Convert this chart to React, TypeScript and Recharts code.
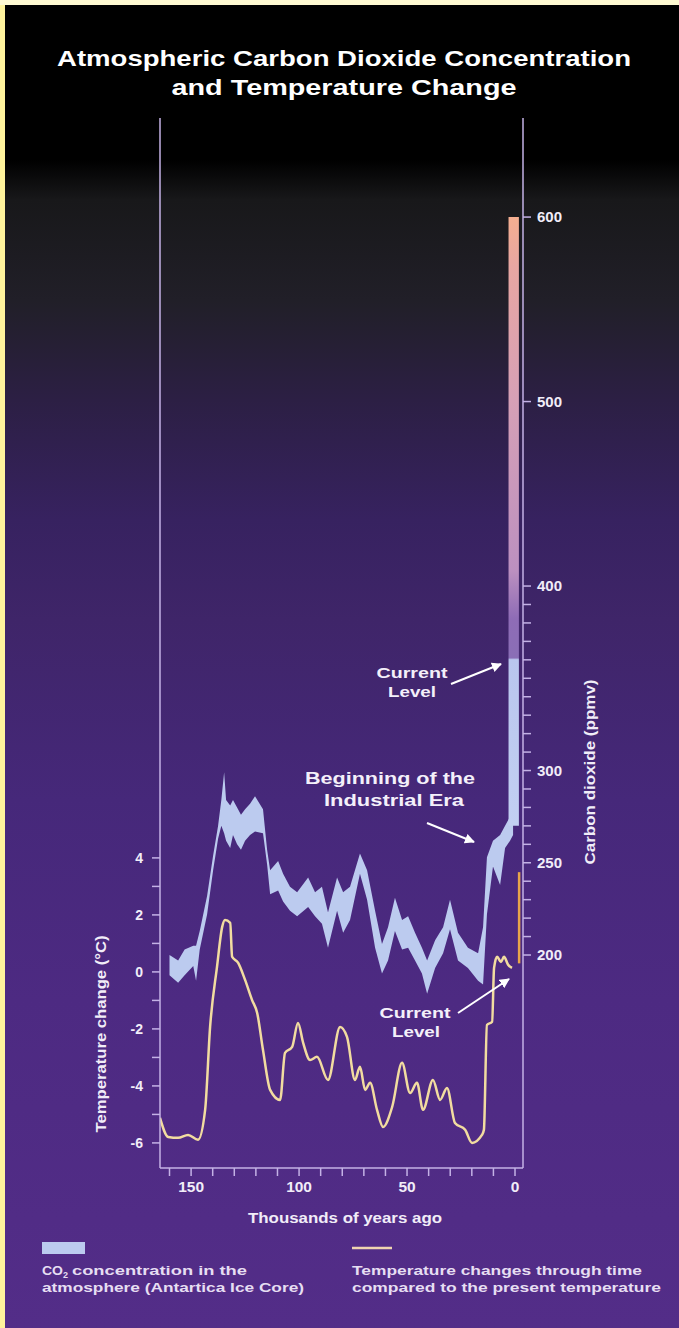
import React from "react";
import { Area, ComposedChart, Line, XAxis, YAxis } from "recharts";

// thousands of years ago (x), CO2 band edges in ppmv
const co2Kyr = [160, 156, 153, 149, 147.7, 146, 142.6, 139.8, 137.5, 136, 134.7, 133.8, 131.9, 130.6, 128.7, 126.9, 125, 122.7, 120.4, 116.7, 114.8, 113.4, 109.7, 107.4, 104.2, 100.9, 95.8, 92.6, 89.4, 86.6, 82.4, 79.6, 76.4, 71.8, 68.5, 64.8, 61.6, 58.8, 55.6, 52.3, 49.5, 46.3, 43.1, 40.7, 37, 33.3, 30.1, 26.4, 21.8, 17.1, 14.8, 13, 10.2, 6.9, 4.6, 2.3, 0.9];
const co2Low = [189, 185, 189, 194, 186, 203, 222, 246, 263, 270, 266, 262, 258, 265, 260, 257, 262, 265, 267, 266, 249, 233, 235, 229, 224, 221, 226, 221, 217, 204, 224, 212, 219, 244, 230, 204, 190, 197, 213, 203, 204, 197, 190, 179, 193, 201, 214, 197, 193, 186, 184, 222, 248, 238, 258, 262, 265];
const co2High = [200, 197, 203, 205, 205, 213, 232, 254, 270, 284, 299, 284, 281, 284, 280, 276, 279, 282, 286, 279, 257, 246, 251, 244, 237, 234, 242, 234, 237, 223, 242, 234, 237, 255, 246, 224, 206, 215, 231, 219, 221, 212, 204, 197, 208, 215, 230, 212, 204, 201, 215, 253, 262, 265, 270, 275, 285];

// industrial era rise / projection column
const co2ProjKyr = [3.0, -1.8];
const co2ProjRange = [270, 600];

// temperature change vs present, deg C
const tempKyr = [164.4, 160.6, 156, 151.4, 146.8, 143.5, 141.2, 138, 135.6, 134.3, 131.9, 131, 128.2, 125, 121.8, 119.4, 116.7, 113.4, 108.8, 106.5, 103.2, 100.5, 98.1, 94.9, 91.7, 86.6, 81, 77.8, 74.1, 71.8, 69.4, 67.1, 63.9, 61.1, 56.9, 52.3, 48.6, 45.4, 42.6, 38, 34.7, 31.5, 27.8, 23.1, 19.9, 15.3, 14.4, 13, 10.6, 9.7, 8.3, 6.5, 5.1, 3.2, 1.4];
const tempC = [-5.12, -5.79, -5.82, -5.72, -5.89, -4.84, -1.93, 0.18, 1.58, 1.82, 1.72, 0.53, 0.32, -0.28, -0.98, -1.44, -2.74, -4.14, -4.49, -2.84, -2.63, -1.79, -2.49, -3.09, -2.98, -3.79, -1.93, -2.28, -3.79, -3.33, -4.14, -3.89, -4.84, -5.44, -4.74, -3.19, -4.25, -3.89, -4.84, -3.79, -4.49, -4.07, -5.3, -5.54, -6.0, -5.72, -5.54, -1.86, -1.75, 0.14, 0.53, 0.35, 0.53, 0.25, 0.14];

const tempProjKyr = [-1.9, -1.9];
const tempProjC = [0.3, 3.5];

const xTicks = [0, 10, 20, 30, 40, 50, 60, 70, 80, 90, 100, 110, 120, 130, 140, 150, 160];
const xLabels = [0, 50, 100, 150];
const tempTicks = [-6, -5, -4, -3, -2, -1, 0, 1, 2, 3, 4];
const tempLabels = [-6, -4, -2, 0, 2, 4];
const co2Ticks = [200, 210, 220, 230, 240, 250, 260, 270, 280, 290, 300, 310, 320, 330, 340, 350, 360, 370, 380, 390, 400, 500, 600];
const co2Labels = [200, 250, 300, 400, 500, 600];

const co2Data = co2Kyr.map((t, i) => ({ t, band: [co2Low[i], co2High[i]] }));
const co2ProjData = co2ProjKyr.map((t) => ({ t, band: co2ProjRange }));
const tempData = tempKyr.map((t, i) => ({ t, temp: tempC[i] }));
const tempProjData = tempProjKyr.map((t, i) => ({ t, temp: tempProjC[i] }));

const AXIS = "#c4b2e6";
const LABEL = "#f1edf8";
const FONT = '"Liberation Sans", Arial, Helvetica, sans-serif';

const XTick = (props: any) => {
  const { x, y, payload } = props;
  if (!xLabels.includes(payload.value)) return <g />;
  return (
    <text x={x} y={y + 14} textAnchor="middle" fill={LABEL} fontSize={15.5} fontWeight={700} fontFamily={FONT}>
      {payload.value}
    </text>
  );
};

const TempTick = (props: any) => {
  const { x, y, payload } = props;
  if (!tempLabels.includes(payload.value)) return <g />;
  return (
    <text x={x} y={y + 5} textAnchor="end" fill={LABEL} fontSize={14} fontWeight={700} fontFamily={FONT}>
      {payload.value}
    </text>
  );
};

const Co2Tick = (props: any) => {
  const { x, y, payload } = props;
  if (!co2Labels.includes(payload.value)) return <g />;
  return (
    <text x={x} y={y + 5} textAnchor="start" fill={LABEL} fontSize={15} fontWeight={700} fontFamily={FONT}>
      {payload.value}
    </text>
  );
};

const fit = (w: number) => ({ textLength: w, lengthAdjust: "spacingAndGlyphs" as const });

export default function App() {
  return (
    <div style={styles.page}>
      <div style={styles.borderLeft} />
      <div style={styles.borderTop} />
      <div style={{ position: "absolute", left: 0, top: 0 }}>
        <ComposedChart width={679} height={1328} margin={{ top: 118, right: 96, bottom: 130, left: 100 }}>
          <defs>
            <linearGradient id="co2Proj" x1="0" y1="0" x2="0" y2="1">
              <stop offset="0" stopColor="#f4ae90" />
              <stop offset="0.08" stopColor="#e8a6a2" />
              <stop offset="0.3" stopColor="#d6a0b6" />
              <stop offset="0.58" stopColor="#bc90c0" />
              <stop offset="0.66" stopColor="#8e6cb6" />
              <stop offset="0.724" stopColor="#8a6eb6" />
              <stop offset="0.727" stopColor="#b9c6ee" />
              <stop offset="1" stopColor="#c2cff2" />
            </linearGradient>
          </defs>
          <XAxis
            dataKey="t"
            type="number"
            domain={[-3.7, 164.4]}
            reversed
            allowDataOverflow
            ticks={xTicks}
            interval={0}
            tick={<XTick />}
            tickSize={8}
            tickMargin={2}
            height={30}
            stroke={AXIS}
            strokeWidth={1.5}
          />
          <XAxis xAxisId="top" type="number" orientation="top" domain={[-3.7, 164.4]} reversed tick={false} tickLine={false} height={0} stroke="#8a8696" />
          <YAxis
            yAxisId="temp"
            type="number"
            domain={[-6.88, 29.96]}
            allowDataOverflow
            ticks={tempTicks}
            interval={0}
            tick={<TempTick />}
            tickSize={8}
            tickMargin={9}
            width={60}
            stroke={AXIS}
            strokeWidth={1.5}
          />
          <YAxis
            yAxisId="co2"
            orientation="right"
            type="number"
            domain={[84.55, 653.7]}
            allowDataOverflow
            ticks={co2Ticks}
            interval={0}
            tick={<Co2Tick />}
            tickSize={8}
            tickMargin={6}
            width={60}
            stroke={AXIS}
            strokeWidth={1.5}
          />
          <Area
            data={co2Data}
            yAxisId="co2"
            dataKey="band"
            type="linear"
            stroke="none"
            fill="#bccbef"
            fillOpacity={1}
            dot={false}
            activeDot={false}
            isAnimationActive={false}
          />
          <Area
            data={co2ProjData}
            yAxisId="co2"
            dataKey="band"
            type="linear"
            stroke="none"
            fill="url(#co2Proj)"
            fillOpacity={1}
            dot={false}
            activeDot={false}
            isAnimationActive={false}
          />
          <Line
            data={tempData}
            yAxisId="temp"
            dataKey="temp"
            type="monotone"
            stroke="#f2dca0"
            strokeWidth={2.5}
            dot={false}
            activeDot={false}
            isAnimationActive={false}
          />
          <Line
            data={tempProjData}
            yAxisId="temp"
            dataKey="temp"
            type="linear"
            stroke="#e8a54a"
            strokeWidth={2.5}
            dot={false}
            activeDot={false}
            isAnimationActive={false}
          />
        </ComposedChart>
      </div>

      <svg width={679} height={1328} style={{ position: "absolute", left: 0, top: 0, pointerEvents: "none" }} fontFamily={FONT}>
        <defs>
          <marker id="arrow" viewBox="0 0 10 10" refX="9" refY="5" markerWidth="5" markerHeight="5" orient="auto-start-reverse">
            <path d="M0,0 L10,5 L0,10 z" fill="#ffffff" />
          </marker>
        </defs>

        <g fill="#ffffff" fontWeight={700} textAnchor="middle" fontSize={22}>
          <text x={344} y={66} {...fit(574)}>Atmospheric Carbon Dioxide Concentration</text>
          <text x={344} y={95} {...fit(345)}>and Temperature Change</text>
        </g>

        <g fill="#f4f0fa" fontWeight={700} textAnchor="middle" fontSize={15}>
          <text x={412} y={678} {...fit(71)}>Current</text>
          <text x={412} y={697} {...fit(48)}>Level</text>
          <text x={390} y={784} fontSize={16} {...fit(170)}>Beginning of the</text>
          <text x={394} y={806} fontSize={16} {...fit(140)}>Industrial Era</text>
          <text x={415} y={1018} {...fit(71)}>Current</text>
          <text x={416} y={1037} {...fit(48)}>Level</text>
        </g>
        <g stroke="#ffffff" strokeWidth={2} markerEnd="url(#arrow)">
          <line x1={451} y1={684} x2={501} y2={664} />
          <line x1={427} y1={823} x2={474} y2={842} />
          <line x1={458} y1={1013} x2={509} y2={979} />
        </g>

        <g fill={LABEL} fontWeight={700} fontSize={14}>
          <text x={345} y={1223} textAnchor="middle" {...fit(194)}>Thousands of years ago</text>
          <text transform="translate(106 1034) rotate(-90)" textAnchor="middle" {...fit(197)}>Temperature change (°C)</text>
          <text transform="translate(595 772) rotate(-90)" textAnchor="middle" {...fit(185)}>Carbon dioxide (ppmv)</text>
        </g>

        <rect x={42} y={1242} width={43} height={12} fill="#bccbef" />
        <line x1={352} y1={1248} x2={392} y2={1248} stroke="#f0d4b0" strokeWidth={2.5} />
        <g fill="#e6def2" fontWeight={700} fontSize={13}>
          <text x={42} y={1275} {...fit(21)}>CO</text>
          <text x={63} y={1278} fontSize={9}>2</text>
          <text x={72} y={1275} {...fit(175)}>concentration in the</text>
          <text x={42} y={1292} {...fit(262)}>atmosphere (Antartica Ice Core)</text>
          <text x={352} y={1275} {...fit(290)}>Temperature changes through time</text>
          <text x={352} y={1292} {...fit(309)}>compared to the present temperature</text>
        </g>
      </svg>
    </div>
  );
}

const styles: Record<string, React.CSSProperties> = {
  page: {
    position: "absolute",
    left: 0,
    top: 0,
    width: 679,
    height: 1328,
    overflow: "hidden",
    fontFamily: FONT,
    background:
      "linear-gradient(to bottom, #000000 0px, #000000 160px, #18181a 200px, #211f28 300px, #2c1f44 400px, #372260 520px, #3f2569 620px, #46287a 800px, #4d2a82 1000px, #532d88 1328px)",
  },
  borderLeft: {
    position: "absolute",
    left: 0,
    top: 0,
    width: 5,
    height: 1328,
    background: "#fff39c",
  },
  borderTop: {
    position: "absolute",
    left: 0,
    top: 0,
    width: 679,
    height: 5,
    background: "#fffad2",
  },
};
